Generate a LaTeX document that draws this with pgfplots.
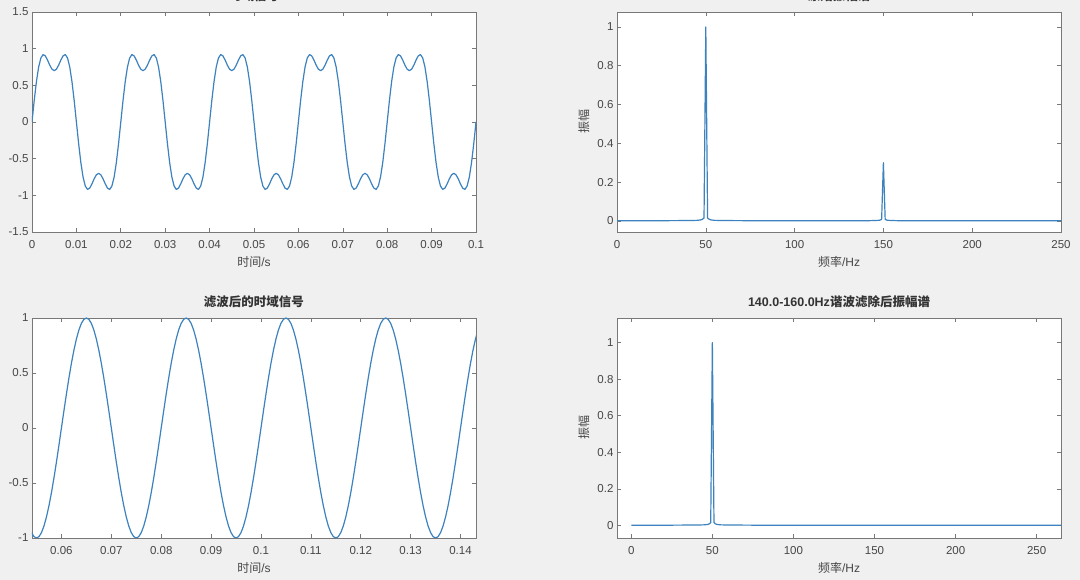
\documentclass[border=0pt]{standalone}
\usepackage{pgfplots}
\pgfplotsset{compat=1.18}
\usepackage{fontspec}
\setmainfont{Liberation Sans}
\newfontfamily\cjk{Noto Sans CJK SC}
\definecolor{bgc}{RGB}{240,240,240}
\definecolor{axgray}{RGB}{120,120,120}
\definecolor{labgray}{RGB}{70,70,70}
\definecolor{lineblue}{RGB}{60,130,190}
\pgfplotsset{mat/.style={
  scale only axis, width=444pt, height=220pt, anchor=south west,
  axis background/.style={fill=white},
  axis line style={draw=axgray, line width=0.8pt},
  every tick/.style={draw=axgray, line width=0.6pt},
  tick align=inside, major tick length=4pt,
  xtick pos=both, ytick pos=both,
  xticklabel pos=lower, yticklabel pos=left,
  ticklabel style={font=\fontsize{11.5}{13}\selectfont, text=labgray},
  xticklabel style={yshift=-5pt},
  xlabel style={font=\fontsize{12}{14}\selectfont, text=labgray, at={(axis description cs:0.5,-0.135)}, anchor=center},
  ylabel style={font=\fontsize{12}{14}\selectfont, text=labgray, at={(axis description cs:-0.075,0.5)}, anchor=center},
  title style={font=\fontsize{12.5}{14}\selectfont\bfseries, text=black!80, at={(axis description cs:0.5,1.046)}, anchor=center},
  cycle list={{lineblue, no markers}},
  every axis plot/.append style={line width=1.2pt, line join=round},
}}
\begin{document}
\begin{tikzpicture}
\fill[bgc] (0,0) rectangle (1080pt,580pt);
\useasboundingbox (0,0) rectangle (1080pt,580pt);

% top-left: time-domain signal
\begin{axis}[mat, at={(32pt,348pt)},
  xmin=0, xmax=0.1, ymin=-1.5, ymax=1.5,
  xtick={0,0.01,0.02,0.03,0.04,0.05,0.06,0.07,0.08,0.09,0.1},
  xticklabels={0,0.01,0.02,0.03,0.04,0.05,0.06,0.07,0.08,0.09,0.1},
  ytick={-1.5,-1,-0.5,0,0.5,1,1.5},
  yticklabels={-1.5,-1,-0.5,0,0.5,1,1.5},
  title={\cjk\bfseries 时域信号}, xlabel={{\cjk 时间}/s}]
\addplot coordinates {
(0,0)(0.0005,0.2926)(0.001,0.5517)(0.0015,0.7503)(0.002,0.8731)(0.0025,0.9192)(0.003,0.9017)(0.0035,0.8441)(0.004,0.7748)(0.0045,0.7204)(0.005,0.7)(0.0055,0.7204)(0.006,0.7748)(0.0065,0.8441)(0.007,0.9017)(0.0075,0.9192)(0.008,0.8731)(0.0085,0.7503)(0.009,0.5517)(0.0095,0.2926)(0.01,0)(0.0105,-0.2926)(0.011,-0.5517)(0.0115,-0.7503)(0.012,-0.8731)(0.0125,-0.9192)(0.013,-0.9017)(0.0135,-0.8441)(0.014,-0.7748)(0.0145,-0.7204)(0.015,-0.7)(0.0155,-0.7204)(0.016,-0.7748)(0.0165,-0.8441)(0.017,-0.9017)(0.0175,-0.9192)(0.018,-0.8731)(0.0185,-0.7503)(0.019,-0.5517)(0.0195,-0.2926)
(0.02,0)(0.0205,0.2926)(0.021,0.5517)(0.0215,0.7503)(0.022,0.8731)(0.0225,0.9192)(0.023,0.9017)(0.0235,0.8441)(0.024,0.7748)(0.0245,0.7204)(0.025,0.7)(0.0255,0.7204)(0.026,0.7748)(0.0265,0.8441)(0.027,0.9017)(0.0275,0.9192)(0.028,0.8731)(0.0285,0.7503)(0.029,0.5517)(0.0295,0.2926)(0.03,0)(0.0305,-0.2926)(0.031,-0.5517)(0.0315,-0.7503)(0.032,-0.8731)(0.0325,-0.9192)(0.033,-0.9017)(0.0335,-0.8441)(0.034,-0.7748)(0.0345,-0.7204)(0.035,-0.7)(0.0355,-0.7204)(0.036,-0.7748)(0.0365,-0.8441)(0.037,-0.9017)(0.0375,-0.9192)(0.038,-0.8731)(0.0385,-0.7503)(0.039,-0.5517)(0.0395,-0.2926)
(0.04,0)(0.0405,0.2926)(0.041,0.5517)(0.0415,0.7503)(0.042,0.8731)(0.0425,0.9192)(0.043,0.9017)(0.0435,0.8441)(0.044,0.7748)(0.0445,0.7204)(0.045,0.7)(0.0455,0.7204)(0.046,0.7748)(0.0465,0.8441)(0.047,0.9017)(0.0475,0.9192)(0.048,0.8731)(0.0485,0.7503)(0.049,0.5517)(0.0495,0.2926)(0.05,0)(0.0505,-0.2926)(0.051,-0.5517)(0.0515,-0.7503)(0.052,-0.8731)(0.0525,-0.9192)(0.053,-0.9017)(0.0535,-0.8441)(0.054,-0.7748)(0.0545,-0.7204)(0.055,-0.7)(0.0555,-0.7204)(0.056,-0.7748)(0.0565,-0.8441)(0.057,-0.9017)(0.0575,-0.9192)(0.058,-0.8731)(0.0585,-0.7503)(0.059,-0.5517)(0.0595,-0.2926)
(0.06,0)(0.0605,0.2926)(0.061,0.5517)(0.0615,0.7503)(0.062,0.8731)(0.0625,0.9192)(0.063,0.9017)(0.0635,0.8441)(0.064,0.7748)(0.0645,0.7204)(0.065,0.7)(0.0655,0.7204)(0.066,0.7748)(0.0665,0.8441)(0.067,0.9017)(0.0675,0.9192)(0.068,0.8731)(0.0685,0.7503)(0.069,0.5517)(0.0695,0.2926)(0.07,0)(0.0705,-0.2926)(0.071,-0.5517)(0.0715,-0.7503)(0.072,-0.8731)(0.0725,-0.9192)(0.073,-0.9017)(0.0735,-0.8441)(0.074,-0.7748)(0.0745,-0.7204)(0.075,-0.7)(0.0755,-0.7204)(0.076,-0.7748)(0.0765,-0.8441)(0.077,-0.9017)(0.0775,-0.9192)(0.078,-0.8731)(0.0785,-0.7503)(0.079,-0.5517)(0.0795,-0.2926)
(0.08,0)(0.0805,0.2926)(0.081,0.5517)(0.0815,0.7503)(0.082,0.8731)(0.0825,0.9192)(0.083,0.9017)(0.0835,0.8441)(0.084,0.7748)(0.0845,0.7204)(0.085,0.7)(0.0855,0.7204)(0.086,0.7748)(0.0865,0.8441)(0.087,0.9017)(0.0875,0.9192)(0.088,0.8731)(0.0885,0.7503)(0.089,0.5517)(0.0895,0.2926)(0.09,0)(0.0905,-0.2926)(0.091,-0.5517)(0.0915,-0.7503)(0.092,-0.8731)(0.0925,-0.9192)(0.093,-0.9017)(0.0935,-0.8441)(0.094,-0.7748)(0.0945,-0.7204)(0.095,-0.7)(0.0955,-0.7204)(0.096,-0.7748)(0.0965,-0.8441)(0.097,-0.9017)(0.0975,-0.9192)(0.098,-0.8731)(0.0985,-0.7503)(0.099,-0.5517)(0.0995,-0.2926)(0.1,0)
};
\end{axis}

% top-right: original spectrum
\begin{axis}[mat, at={(617pt,348pt)},
  xmin=0, xmax=250, ymin=-0.057, ymax=1.077,
  xtick={0,50,100,150,200,250},
  xticklabels={0,50,100,150,200,250},
  ytick={0,0.2,0.4,0.6,0.8,1},
  yticklabels={0,0.2,0.4,0.6,0.8,1},
  title={\cjk\bfseries 原始振幅谱}, xlabel={{\cjk 频率}/Hz}, ylabel={\cjk 振幅}]
\addplot coordinates {
(0,0.001)(20,0.001)(40,0.002)(45,0.003)(47,0.005)(48,0.008)(49,0.015)(50,1)(51,0.015)(52,0.008)(53,0.005)(55,0.003)(60,0.002)(80,0.001)(130,0.001)(140,0.001)(145,0.002)(147,0.003)(148,0.004)(149,0.008)(150,0.3)(151,0.008)(152,0.004)(153,0.003)(155,0.002)(160,0.001)(250,0.001)
};
\end{axis}

% bottom-left: filtered time-domain signal
\begin{axis}[mat, at={(32pt,42pt)},
  xmin=0.0541, xmax=0.1431, ymin=-1, ymax=1,
  xtick={0.06,0.07,0.08,0.09,0.1,0.11,0.12,0.13,0.14},
  xticklabels={0.06,0.07,0.08,0.09,0.1,0.11,0.12,0.13,0.14},
  ytick={-1,-0.5,0,0.5,1},
  yticklabels={-1,-0.5,0,0.5,1},
  title={\cjk\bfseries 滤波后的时域信号}, xlabel={{\cjk 时间}/s}]
\addplot coordinates {
(0.054,-0.9511)(0.0545,-0.9877)(0.055,-1)(0.0555,-0.9877)(0.056,-0.9511)(0.0565,-0.8910)(0.057,-0.8090)(0.0575,-0.7071)(0.058,-0.5878)(0.0585,-0.4540)(0.059,-0.3090)(0.0595,-0.1564)
(0.06,0)(0.0605,0.1564)(0.061,0.3090)(0.0615,0.4540)(0.062,0.5878)(0.0625,0.7071)(0.063,0.8090)(0.0635,0.8910)(0.064,0.9511)(0.0645,0.9877)(0.065,1)(0.0655,0.9877)(0.066,0.9511)(0.0665,0.8910)(0.067,0.8090)(0.0675,0.7071)(0.068,0.5878)(0.0685,0.4540)(0.069,0.3090)(0.0695,0.1564)(0.07,0)(0.0705,-0.1564)(0.071,-0.3090)(0.0715,-0.4540)(0.072,-0.5878)(0.0725,-0.7071)(0.073,-0.8090)(0.0735,-0.8910)(0.074,-0.9511)(0.0745,-0.9877)(0.075,-1)(0.0755,-0.9877)(0.076,-0.9511)(0.0765,-0.8910)(0.077,-0.8090)(0.0775,-0.7071)(0.078,-0.5878)(0.0785,-0.4540)(0.079,-0.3090)(0.0795,-0.1564)
(0.08,0)(0.0805,0.1564)(0.081,0.3090)(0.0815,0.4540)(0.082,0.5878)(0.0825,0.7071)(0.083,0.8090)(0.0835,0.8910)(0.084,0.9511)(0.0845,0.9877)(0.085,1)(0.0855,0.9877)(0.086,0.9511)(0.0865,0.8910)(0.087,0.8090)(0.0875,0.7071)(0.088,0.5878)(0.0885,0.4540)(0.089,0.3090)(0.0895,0.1564)(0.09,0)(0.0905,-0.1564)(0.091,-0.3090)(0.0915,-0.4540)(0.092,-0.5878)(0.0925,-0.7071)(0.093,-0.8090)(0.0935,-0.8910)(0.094,-0.9511)(0.0945,-0.9877)(0.095,-1)(0.0955,-0.9877)(0.096,-0.9511)(0.0965,-0.8910)(0.097,-0.8090)(0.0975,-0.7071)(0.098,-0.5878)(0.0985,-0.4540)(0.099,-0.3090)(0.0995,-0.1564)
(0.1,0)(0.1005,0.1564)(0.101,0.3090)(0.1015,0.4540)(0.102,0.5878)(0.1025,0.7071)(0.103,0.8090)(0.1035,0.8910)(0.104,0.9511)(0.1045,0.9877)(0.105,1)(0.1055,0.9877)(0.106,0.9511)(0.1065,0.8910)(0.107,0.8090)(0.1075,0.7071)(0.108,0.5878)(0.1085,0.4540)(0.109,0.3090)(0.1095,0.1564)(0.11,0)(0.1105,-0.1564)(0.111,-0.3090)(0.1115,-0.4540)(0.112,-0.5878)(0.1125,-0.7071)(0.113,-0.8090)(0.1135,-0.8910)(0.114,-0.9511)(0.1145,-0.9877)(0.115,-1)(0.1155,-0.9877)(0.116,-0.9511)(0.1165,-0.8910)(0.117,-0.8090)(0.1175,-0.7071)(0.118,-0.5878)(0.1185,-0.4540)(0.119,-0.3090)(0.1195,-0.1564)
(0.12,0)(0.1205,0.1564)(0.121,0.3090)(0.1215,0.4540)(0.122,0.5878)(0.1225,0.7071)(0.123,0.8090)(0.1235,0.8910)(0.124,0.9511)(0.1245,0.9877)(0.125,1)(0.1255,0.9877)(0.126,0.9511)(0.1265,0.8910)(0.127,0.8090)(0.1275,0.7071)(0.128,0.5878)(0.1285,0.4540)(0.129,0.3090)(0.1295,0.1564)(0.13,0)(0.1305,-0.1564)(0.131,-0.3090)(0.1315,-0.4540)(0.132,-0.5878)(0.1325,-0.7071)(0.133,-0.8090)(0.1335,-0.8910)(0.134,-0.9511)(0.1345,-0.9877)(0.135,-1)(0.1355,-0.9877)(0.136,-0.9511)(0.1365,-0.8910)(0.137,-0.8090)(0.1375,-0.7071)(0.138,-0.5878)(0.1385,-0.4540)(0.139,-0.3090)(0.1395,-0.1564)
(0.14,0)(0.1405,0.1564)(0.141,0.3090)(0.1415,0.4540)(0.142,0.5878)(0.1425,0.7071)(0.143,0.8090)(0.1435,0.8910)
};
\end{axis}

% bottom-right: spectrum after filtering
\begin{axis}[mat, at={(617pt,42pt)},
  xmin=-8.8, xmax=265, ymin=-0.069, ymax=1.135,
  xtick={0,50,100,150,200,250},
  xticklabels={0,50,100,150,200,250},
  ytick={0,0.2,0.4,0.6,0.8,1},
  yticklabels={0,0.2,0.4,0.6,0.8,1},
  title={140.0-160.0Hz{\cjk\bfseries 谐波滤除后振幅谱}}, xlabel={{\cjk 频率}/Hz}, ylabel={\cjk 振幅}]
\addplot coordinates {
(0,0.001)(20,0.001)(40,0.002)(45,0.003)(47,0.005)(48,0.008)(49,0.015)(50,1)(51,0.015)(52,0.008)(53,0.005)(55,0.003)(60,0.002)(80,0.001)(265,0.001)
};
\end{axis}
\end{tikzpicture}
\end{document}
